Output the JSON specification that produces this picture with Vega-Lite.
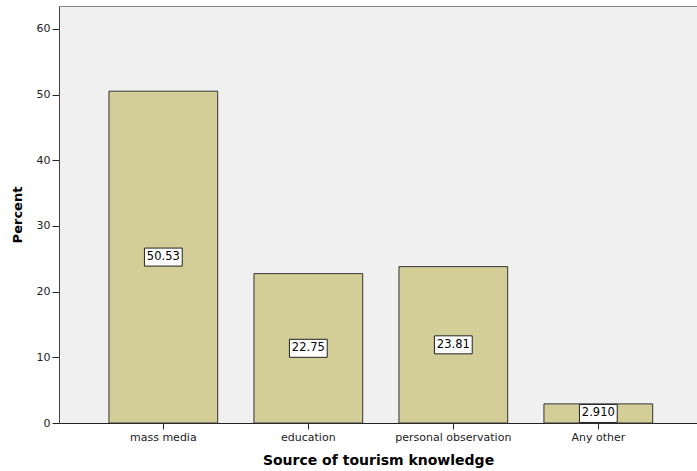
{
  "$schema": "https://vega.github.io/schema/vega-lite/v6.json",
  "width": 638,
  "height": 417,
  "autosize": {"type": "none"},
  "padding": {"left": 59, "top": 6, "right": 0, "bottom": 48},
  "background": "white",
  "config": {
    "font": "DejaVu Sans",
    "view": {"fill": "#F0F0F0", "stroke": "#8a8a8a", "strokeWidth": 1}
  },
  "data": {
    "values": [
      {"Source": "mass media", "Percent": 50.53, "Label": "50.53"},
      {"Source": "education", "Percent": 22.75, "Label": "22.75"},
      {"Source": "personal observation", "Percent": 23.81, "Label": "23.81"},
      {"Source": "Any other", "Percent": 2.91, "Label": "2.910"}
    ]
  },
  "encoding": {
    "x": {
      "field": "Source",
      "type": "nominal",
      "sort": null,
      "scale": {"paddingInner": 0.25, "paddingOuter": 0.325, "align": 0.53},
      "axis": {
        "title": "Source of tourism knowledge",
        "titleFont": "DejaVu Sans",
        "titleFontSize": 14,
        "titleFontWeight": "bold",
        "titleColor": "#000",
        "titlePadding": 11,
        "labelAngle": 0,
        "labelFont": "DejaVu Sans",
        "labelFontSize": 11,
        "labelColor": "#222",
        "labelPadding": 2,
        "tickSize": 6,
        "tickColor": "#222",
        "domainColor": "#222",
        "grid": false
      }
    }
  },
  "layer": [
    {
      "mark": {"type": "bar", "fill": "#D3CE97", "stroke": "#333", "strokeWidth": 1},
      "encoding": {
        "y": {
          "field": "Percent",
          "type": "quantitative",
          "scale": {"domain": [0, 63.5], "nice": false},
          "axis": {
            "title": "Percent",
            "titleFont": "DejaVu Sans",
            "titleFontSize": 13,
            "titleFontWeight": "bold",
            "titleColor": "#000",
            "titlePadding": 12,
            "values": [0, 10, 20, 30, 40, 50, 60],
            "labelFont": "DejaVu Sans",
            "labelFontSize": 11,
            "labelColor": "#222",
            "labelPadding": 2,
            "tickSize": 7,
            "tickColor": "#222",
            "domainColor": "#444",
            "grid": false
          }
        }
      }
    },
    {
      "transform": [{"calculate": "datum.Percent / 2", "as": "Mid"}],
      "mark": {
        "type": "point",
        "shape": "M-2.1,-1H2.1V1H-2.1Z",
        "size": 324,
        "filled": true,
        "fill": "white",
        "stroke": "#222",
        "strokeWidth": 1,
        "opacity": 1
      },
      "encoding": {
        "y": {"field": "Mid", "type": "quantitative", "scale": {"domain": [0, 63.5], "nice": false}}
      }
    },
    {
      "transform": [{"calculate": "datum.Percent / 2", "as": "Mid"}],
      "mark": {"type": "text", "font": "DejaVu Sans", "fontSize": 11.5, "color": "#000", "baseline": "middle", "align": "center"},
      "encoding": {
        "y": {"field": "Mid", "type": "quantitative", "scale": {"domain": [0, 63.5], "nice": false}},
        "text": {"field": "Label", "type": "nominal"}
      }
    }
  ]
}
